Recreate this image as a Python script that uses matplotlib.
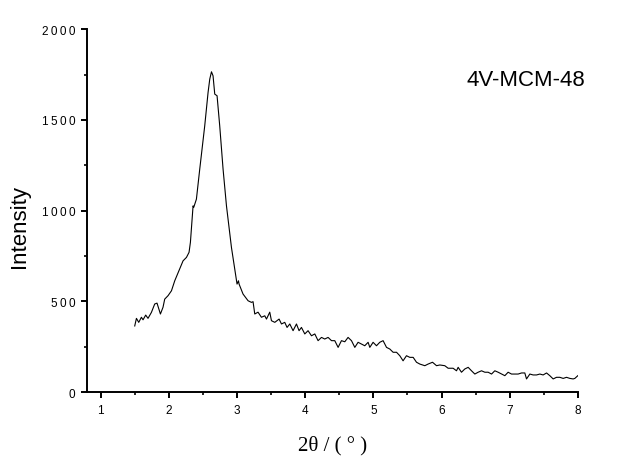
"""Small-angle XRD pattern of 4V-MCM-48."""

import matplotlib

matplotlib.use("Agg")
import matplotlib.pyplot as plt
from matplotlib.ticker import FuncFormatter, MultipleLocator

# 2-theta (degrees)
two_theta = [
    1.499, 1.524, 1.558, 1.597, 1.621, 1.660, 1.694, 1.744, 1.792, 1.826,
    1.876, 1.914, 1.939, 1.988, 2.038, 2.086, 2.159, 2.208, 2.258, 2.296,
    2.316, 2.355, 2.365, 2.404, 2.453, 2.526, 2.575, 2.600, 2.625, 2.648,
    2.673, 2.707, 2.746, 2.795, 2.845, 2.918, 2.967, 3.000, 3.021, 3.030,
    3.088, 3.162, 3.212, 3.235, 3.260, 3.308, 3.358, 3.407, 3.432, 3.480,
    3.505, 3.554, 3.617, 3.652, 3.700, 3.734, 3.774, 3.822, 3.872, 3.910,
    3.945, 3.994, 4.042, 4.092, 4.141, 4.189, 4.239, 4.287, 4.336, 4.386,
    4.434, 4.483, 4.532, 4.581, 4.629, 4.679, 4.728, 4.776, 4.826, 4.874,
    4.923, 4.948, 4.996, 5.046, 5.094, 5.143, 5.193, 5.241, 5.290, 5.340,
    5.388, 5.436, 5.486, 5.535, 5.584, 5.633, 5.682, 5.755, 5.803, 5.868,
    5.927, 5.975, 6.048, 6.097, 6.170, 6.220, 6.244, 6.293, 6.342, 6.391,
    6.440, 6.489, 6.537, 6.587, 6.636, 6.684, 6.734, 6.782, 6.831, 6.881,
    6.929, 6.977, 7.027, 7.076, 7.124, 7.174, 7.222, 7.247, 7.296, 7.344,
    7.394, 7.443, 7.491, 7.541, 7.589, 7.638, 7.687, 7.736, 7.785, 7.834,
    7.883, 7.931, 7.956, 8.000,
]
intensity = [
    364, 406, 384, 412, 398, 424, 406, 439, 485, 490,
    430, 467, 512, 531, 558, 613, 678, 723, 742, 770,
    825, 1026, 1018, 1063, 1229, 1467, 1651, 1725, 1765, 1743,
    1642, 1633, 1467, 1229, 1026, 797, 678, 595, 613, 595,
    540, 503, 494, 498, 430, 440, 412, 420, 402, 440,
    393, 384, 402, 375, 384, 356, 375, 338, 375, 338,
    356, 320, 338, 310, 320, 283, 301, 292, 301, 283,
    283, 246, 283, 277, 301, 283, 246, 274, 264, 255,
    274, 246, 274, 255, 274, 283, 246, 237, 219, 219,
    200, 172, 200, 191, 191, 164, 154, 145, 154, 164,
    145, 149, 145, 131, 131, 117, 136, 109, 127, 136,
    117, 99, 109, 117, 109, 109, 99, 117, 109, 99,
    90, 109, 99, 99, 99, 105, 105, 72, 99, 94,
    94, 99, 94, 105, 90, 72, 81, 81, 75, 81,
    75, 72, 75, 90,
]
sample_label = "4V-MCM-48"


def spaced(v, _pos):
    # Origin-style tick labels with a little letter spacing
    return "\u2009".join(f"{v:g}")


fig = plt.figure(figsize=(6.22, 4.64), dpi=100)
ax = fig.add_axes([0.14, 0.153, 0.789, 0.782])

ax.plot(two_theta, intensity, color="black", lw=0.8)

ax.set_xlim(0.8, 8.0)
ax.set_ylim(0, 2000)
ax.xaxis.set_major_locator(MultipleLocator(1))
ax.xaxis.set_minor_locator(MultipleLocator(0.5))
ax.yaxis.set_major_locator(MultipleLocator(500))
ax.yaxis.set_minor_locator(MultipleLocator(250))
ax.xaxis.set_major_formatter(FuncFormatter(spaced))
ax.yaxis.set_major_formatter(FuncFormatter(spaced))

for side in ("top", "right"):
    ax.spines[side].set_visible(False)
for side in ("left", "bottom"):
    ax.spines[side].set_linewidth(1.4)

ax.tick_params(which="major", direction="out", length=4.5, width=1.4,
               labelsize=8.5, pad=4)
ax.tick_params(which="minor", direction="out", length=2.5, width=1.2)
for lab in ax.get_xticklabels() + ax.get_yticklabels():
    lab.set_family(["Liberation Sans", "DejaVu Sans"])

ax.set_ylabel("Intensity", family="Liberation Sans", fontsize=16)
ax.yaxis.set_label_coords(-0.116, 0.46)
ax.set_xlabel("2\u03b8 / ( \u00b0 )", family="Liberation Serif", fontsize=15,
              labelpad=14)

ax.text(1.016, 0.862, sample_label, transform=ax.transAxes, ha="right",
        va="center", family="Liberation Sans", fontsize=16)

fig.savefig("out.png", dpi=100)
